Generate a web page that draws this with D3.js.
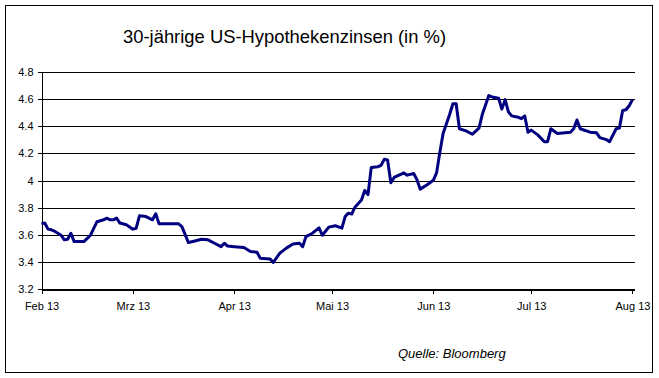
<!DOCTYPE html>
<html>
<head>
<meta charset="utf-8">
<script src="https://cdn.jsdelivr.net/npm/d3@7"></script>
<style>
  body { margin: 0; background: #fff; }
  svg { display: block; font-family: "Liberation Sans", Arial, sans-serif; }
</style>
</head>
<body>
<svg width="659" height="378"></svg>
<script>
// Daten
const dates = [
  "2013-02-01","2013-02-02","2013-02-03","2013-02-04","2013-02-05","2013-02-07","2013-02-08","2013-02-09",
  "2013-02-10","2013-02-11","2013-02-14","2013-02-16","2013-02-17","2013-02-18","2013-02-20","2013-02-21",
  "2013-02-22","2013-02-23","2013-02-24","2013-02-25","2013-02-27","2013-03-01","2013-03-02","2013-03-03",
  "2013-03-05","2013-03-07","2013-03-08","2013-03-09","2013-03-15","2013-03-16","2013-03-18","2013-03-20",
  "2013-03-22","2013-03-24","2013-03-26","2013-03-28","2013-03-29","2013-03-30","2013-04-01","2013-04-04",
  "2013-04-06","2013-04-08","2013-04-09","2013-04-12","2013-04-13","2013-04-15","2013-04-17","2013-04-19",
  "2013-04-21","2013-04-22","2013-04-23","2013-04-25","2013-04-27","2013-04-28","2013-04-30","2013-05-02",
  "2013-05-04","2013-05-05","2013-05-06","2013-05-07","2013-05-08","2013-05-10","2013-05-11","2013-05-12",
  "2013-05-13","2013-05-15","2013-05-16","2013-05-17","2013-05-18","2013-05-19","2013-05-20","2013-05-23",
  "2013-05-24","2013-05-26","2013-05-27","2013-05-28","2013-05-30","2013-06-01","2013-06-02","2013-06-03",
  "2013-06-04","2013-06-05","2013-06-06","2013-06-07","2013-06-08","2013-06-09","2013-06-11","2013-06-13",
  "2013-06-15","2013-06-16","2013-06-18","2013-06-19","2013-06-21","2013-06-22","2013-06-23","2013-06-24",
  "2013-06-25","2013-06-27","2013-06-28","2013-06-29","2013-06-30","2013-07-01","2013-07-03","2013-07-05",
  "2013-07-06","2013-07-07","2013-07-09","2013-07-13","2013-07-14","2013-07-15","2013-07-16","2013-07-19",
  "2013-07-21","2013-07-22","2013-07-24","2013-07-25","2013-07-27","2013-07-28","2013-07-29","2013-07-30",
  "2013-07-31","2013-08-01"
];
const rates = [
  3.685, 3.69, 3.645, 3.64, 3.63, 3.60, 3.566, 3.57,
  3.615, 3.553, 3.553, 3.60, 3.65, 3.70, 3.714, 3.726,
  3.714, 3.714, 3.726, 3.69, 3.677, 3.645, 3.652, 3.743,
  3.738, 3.714, 3.758, 3.684, 3.684, 3.664, 3.546, 3.558,
  3.571, 3.566, 3.541, 3.516, 3.541, 3.52, 3.516, 3.51,
  3.48, 3.475, 3.431, 3.425, 3.40, 3.468, 3.505, 3.536,
  3.541, 3.516, 3.59, 3.615, 3.655, 3.60, 3.66, 3.67,
  3.652, 3.738, 3.763, 3.756, 3.807, 3.86, 3.93, 3.90,
  4.10, 4.105, 4.115, 4.16, 4.155, 3.987, 4.026, 4.06,
  4.043, 4.055, 4.01, 3.94, 3.97, 4.005, 4.06, 4.21,
  4.35, 4.42, 4.49, 4.57, 4.57, 4.385, 4.37, 4.345,
  4.39, 4.49, 4.63, 4.62, 4.61, 4.53, 4.60, 4.51,
  4.48, 4.47, 4.46, 4.48, 4.36, 4.375, 4.34, 4.29,
  4.29, 4.385, 4.35, 4.36, 4.385, 4.45, 4.385, 4.36,
  4.355, 4.32, 4.305, 4.29, 4.385, 4.39, 4.52, 4.525,
  4.555, 4.60
];
const monthTicks = ["2013-02-01","2013-03-01","2013-04-01","2013-05-01","2013-06-01","2013-07-01","2013-08-01"];
const monthLabels = ["Feb 13","Mrz 13","Apr 13","Mai 13","Jun 13","Jul 13","Aug 13"];
const yTicks = [3.2, 3.4, 3.6, 3.8, 4, 4.2, 4.4, 4.6, 4.8];

const parse = d3.timeParse("%Y-%m-%d");
const data = dates.map((d, i) => ({ date: parse(d), value: rates[i] }));

const svg = d3.select("svg");

// Rahmen
svg.append("rect")
    .attr("x", 5.5).attr("y", 5.5)
    .attr("width", 647).attr("height", 367)
    .attr("fill", "none").attr("stroke", "#000");

const x = d3.scaleTime()
    .domain([parse("2013-02-01"), new Date(2013, 7, 1, 15)])
    .range([41, 634]);
const y = d3.scaleLinear().domain([3.2, 4.8]).range([289, 72]);

const g = svg.append("g").attr("transform", "translate(0.5,0.5)");

// Gitterlinien
g.append("g").selectAll("line")
    .data(yTicks)
    .enter().append("line")
    .attr("x1", x.range()[0]).attr("x2", x.range()[1])
    .attr("y1", d => Math.round(y(d))).attr("y2", d => Math.round(y(d)))
    .attr("stroke", "#000")
    .attr("shape-rendering", "crispEdges");

// Achsen
const xAxis = g.append("g")
    .attr("transform", `translate(0,${y(3.2)})`)
    .call(d3.axisBottom(x)
        .tickValues(monthTicks.map(parse))
        .tickFormat((d, i) => monthLabels[i])
        .tickSize(4).tickSizeOuter(0).tickPadding(9));

const yAxis = g.append("g")
    .attr("transform", `translate(${x.range()[0]},0)`)
    .call(d3.axisLeft(y)
        .tickValues(yTicks)
        .tickFormat(d => String(d))
        .tickSize(4).tickSizeOuter(0).tickPadding(4));

[xAxis, yAxis].forEach(a => {
    a.attr("font-family", null).attr("font-size", null);
    a.selectAll("text").attr("fill", "#000").style("font-size", "11px");
    a.selectAll("line, path").attr("stroke", "#000").attr("shape-rendering", "crispEdges");
});
yAxis.selectAll(".tick").attr("transform", d => `translate(0,${Math.round(y(d))})`);

// Linie
const line = d3.line()
    .x(d => x(d.date))
    .y(d => y(d.value));

g.append("path")
    .datum(data)
    .attr("d", line)
    .attr("fill", "none")
    .attr("stroke", "#000080")
    .attr("stroke-width", 3)
    .attr("stroke-linejoin", "round");

// Titel und Quelle
svg.append("text")
    .attr("x", 123).attr("y", 43)
    .style("font-size", "18.4px")
    .text("30-jährige US-Hypothekenzinsen (in %)");

svg.append("text")
    .attr("x", 398).attr("y", 358)
    .style("font-size", "13px")
    .style("font-style", "italic")
    .text("Quelle: Bloomberg");
</script>
</body>
</html>
